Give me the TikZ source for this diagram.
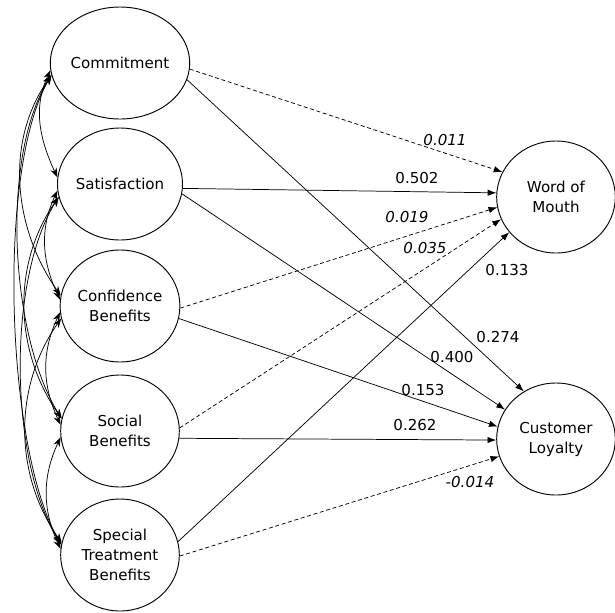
\documentclass[tikz,border=0pt]{standalone}
\usepackage{fontspec}
\setmainfont{DejaVu Sans}
\usetikzlibrary{shapes.geometric,arrows.meta}
\begin{document}
\begin{tikzpicture}[x=0.75pt,y=0.75pt,
  construct/.style={ellipse,draw,line width=0.7pt,minimum width=89pt,minimum height=84pt,inner sep=0pt,align=center,font=\fontsize{11.3}{15}\selectfont},
  pathline/.style={line width=0.55pt,-{Latex[length=6.5pt,width=4.8pt]}},
  nspath/.style={pathline,dash pattern=on 3pt off 2pt},
  cov/.style={line width=0.55pt,{Stealth[length=7pt,width=5pt]}-{Stealth[length=7pt,width=5pt]}},
  lab/.style={inner sep=0pt,font=\fontsize{11.3}{13}\selectfont}]
\useasboundingbox (0,0) rectangle (615,-612);
% constructs
\node[construct] (com) at (120,-63) {Commitment};
\node[construct] (sat) at (120,-184) {Satisfaction};
\node[construct] (con) at (120,-306) {Confidence\\Benefits};
\node[construct] (soc) at (120,-431) {Social\\Benefits};
\node[construct] (spe) at (120,-555) {Special\\Treatment\\Benefits};
\node[construct] (wom) at (556,-197) {Word of\\Mouth};
\node[construct] (loy) at (556,-439) {Customer\\Loyalty};
% covariances
\draw[cov] (com.186) to[out=245,in=115,looseness=1.0] (sat.174);
\draw[cov] (sat.186) to[out=245,in=115,looseness=1.0] (con.174);
\draw[cov] (con.186) to[out=245,in=115,looseness=1.0] (soc.174);
\draw[cov] (soc.186) to[out=245,in=115,looseness=1.0] (spe.174);
\draw[cov] (com.190) to[out=235,in=125,looseness=0.95] (con.170);
\draw[cov] (sat.192) to[out=235,in=125,looseness=0.95] (soc.168);
\draw[cov] (con.192) to[out=235,in=125,looseness=0.95] (spe.168);
\draw[cov] (com.190) to[out=238,in=122,looseness=0.72] (soc.168);
\draw[cov] (sat.192) to[out=238,in=122,looseness=0.72] (spe.170);
\draw[cov] (com.190) to[out=240,in=120,looseness=0.6] (spe.170);
% structural paths
\draw[nspath] (com.-5) -- (wom.155);
\draw[pathline] (com.-14) -- (loy.124);
\draw[pathline] (sat.-4) -- (wom.176);
\draw[pathline] (sat.-9) -- (loy.150);
\draw[nspath] (con.-2) -- (wom.190);
\draw[pathline] (con.-12) -- (loy.168);
\draw[nspath] (soc.3) -- (wom.202);
\draw[pathline] (soc.-7) -- (loy.181);
\draw[pathline] (spe.13) -- (wom.217);
\draw[nspath] (spe.-1) -- (loy.197);
% coefficients
\node[lab] (c1) at (445,-140) {\itshape 0.011};
\node[lab] (c2) at (417,-178) {0.502};
\node[lab] (c3) at (407,-217) {\itshape 0.019};
\node[lab] (c4) at (425,-248) {\itshape 0.035};
\node[lab] (c5) at (507,-270) {0.133};
\node[lab] (c6) at (498,-337) {0.274};
\node[lab] (c7) at (452,-357) {0.400};
\node[lab] (c8) at (423,-390) {0.153};
\node[lab] (c9) at (415,-425) {0.262};
\node[lab] (c10) at (470,-482) {\itshape -0.014};
\end{tikzpicture}
\end{document}
